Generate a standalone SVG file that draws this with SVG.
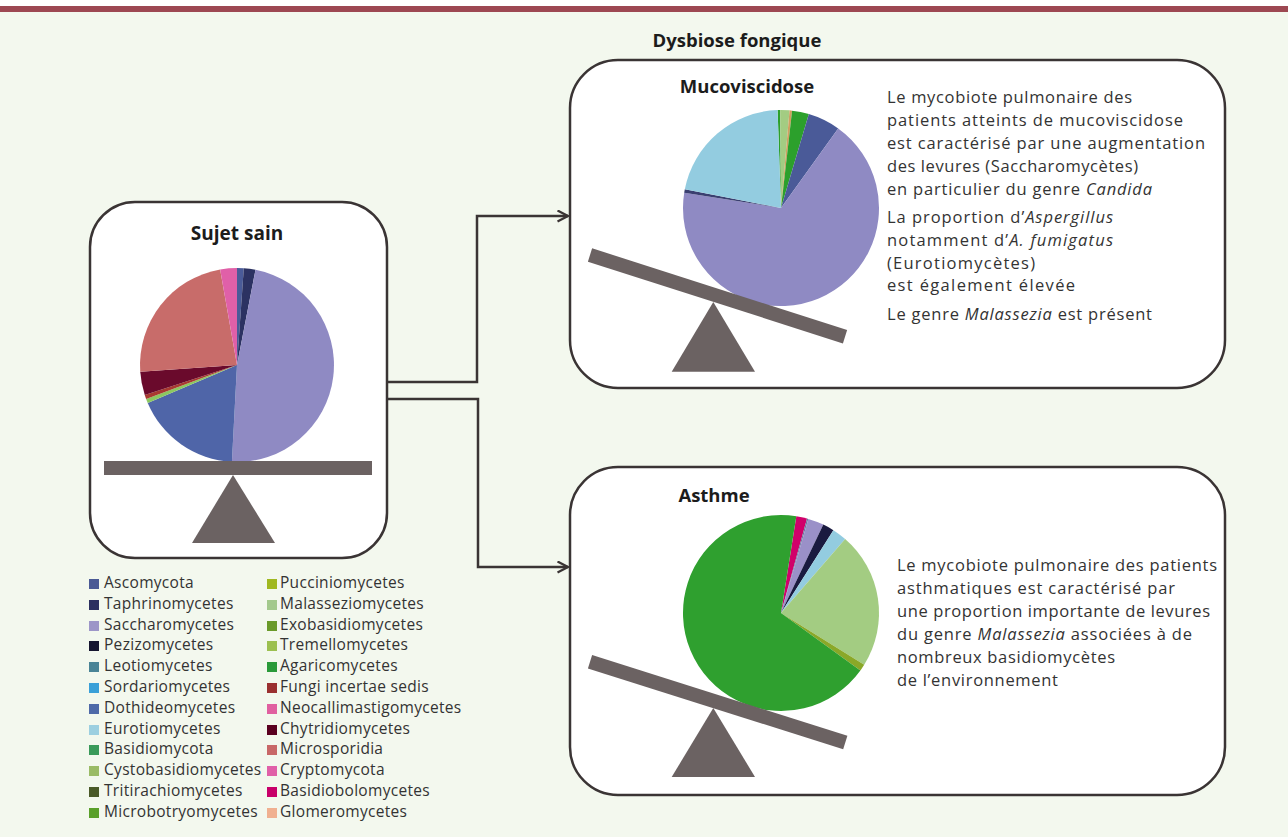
<svg xmlns="http://www.w3.org/2000/svg" width="1288" height="837" viewBox="0 0 1288 837">
<style>
.box{fill:#ffffff;stroke:#3a3434;stroke-width:2.5}
.conn{fill:none;stroke:#3a3434;stroke-width:2.5}
.beam{fill:#6b6262}
.h{font-family:"Open Sans","Liberation Sans",sans-serif;font-weight:700;fill:#1c1c1c;text-anchor:middle}
.t{font-family:"Open Sans","Liberation Sans",sans-serif;font-size:16.5px;fill:#333333}
.lg{font-family:"Open Sans","Liberation Sans",sans-serif;font-size:15.5px;letter-spacing:0.3px;fill:#333333}
.i{font-style:italic}
</style>
<defs>
<marker id="arr" markerUnits="userSpaceOnUse" markerWidth="14" markerHeight="14" refX="11" refY="6" orient="auto">
<path d="M0.5,0.5 L11,6 L0.5,11.5" fill="none" stroke="#3a3434" stroke-width="2.3"/>
</marker>
</defs>
<rect x="0" y="0" width="1288" height="837" fill="#f3f8ee"/>
<rect x="0" y="0" width="1288" height="6" fill="#ffffff"/>
<rect x="0" y="6" width="1288" height="6" fill="#9d4852"/>
<text class="h" x="737" y="47" font-size="18.5">Dysbiose fongique</text>

<g id="connectors">
<path class="conn" d="M387,382 H477 V216 H568" marker-end="url(#arr)"/>
<path class="conn" d="M387,399 H478 V567 H568" marker-end="url(#arr)"/>
</g>

<g id="sujet-sain">
<rect class="box" x="90" y="202" width="297" height="356" rx="45" ry="45"/>
<text class="h" x="237" y="240" font-size="19">Sujet sain</text>
<g stroke="none">
<path d="M237,365 L237,268 A97,97 0 0 1 243.77,268.23 Z" fill="#4a5b98"/>
<path d="M237,365 L243.77,268.23 A97,97 0 0 1 255.51,269.79 Z" fill="#2c3262"/>
<path d="M237,365 L255.51,269.79 A97,97 0 0 1 231.92,461.87 Z" fill="#8f8ac3"/>
<path d="M237,365 L231.92,461.87 A97,97 0 0 1 147.71,402.90 Z" fill="#4f65a8"/>
<path d="M237,365 L147.71,402.90 A97,97 0 0 1 146.14,398.97 Z" fill="#8cc860"/>
<path d="M237,365 L146.14,398.97 A97,97 0 0 1 144.75,394.97 Z" fill="#a83a30"/>
<path d="M237,365 L144.75,394.97 A97,97 0 0 1 140.24,371.77 Z" fill="#6a0a2c"/>
<path d="M237,365 L140.24,371.77 A97,97 0 0 1 220.16,269.47 Z" fill="#c86c6a"/>
<path d="M237,365 L220.16,269.47 A97,97 0 0 1 237,268 Z" fill="#e060a8"/>
</g>
<rect class="beam" x="104" y="461" width="268" height="14"/>
<polygon class="beam" points="233,475 192,543 275,543"/>
</g>

<g id="mucoviscidose">
<rect class="box" x="570" y="60" width="655" height="328" rx="48" ry="48"/>
<text class="h" x="747" y="93" font-size="18.5">Mucoviscidose</text>
<g stroke="none">
<path d="M781,208 L777.58,110.06 A98,98 0 0 1 780.14,110 Z" fill="#2ca02c"/>
<path d="M781,208 L780.14,110 A98,98 0 0 1 789.54,110.37 Z" fill="#a3cc82"/>
<path d="M781,208 L789.54,110.37 A98,98 0 0 1 792.09,110.63 Z" fill="#d0a060"/>
<path d="M781,208 L792.09,110.63 A98,98 0 0 1 808.83,114.04 Z" fill="#2ca02c"/>
<path d="M781,208 L808.83,114.04 A98,98 0 0 1 838.18,128.41 Z" fill="#4a5a98"/>
<path d="M781,208 L838.18,128.41 A98,98 0 1 1 684.21,192.67 Z" fill="#8f8ac3"/>
<path d="M781,208 L684.21,192.67 A98,98 0 0 1 684.80,189.30 Z" fill="#3a3f70"/>
<path d="M781,208 L684.80,189.30 A98,98 0 0 1 777.58,110.06 Z" fill="#93cce0"/>
</g>
<polygon class="beam" points="592.1,248.3 847.1,330 842.9,343.4 587.9,261.7"/>
<polygon class="beam" points="713.3,302 671.7,371.7 755,371.7"/>
<text class="t" x="887" y="103.3" textLength="245" lengthAdjust="spacing">Le mycobiote pulmonaire des</text>
<text class="t" x="887" y="126.2" textLength="296" lengthAdjust="spacing">patients atteints de mucoviscidose</text>
<text class="t" x="887" y="149.1" textLength="318" lengthAdjust="spacing">est caractérisé par une augmentation</text>
<text class="t" x="887" y="172" textLength="251" lengthAdjust="spacing">des levures (Saccharomycètes)</text>
<text class="t" x="887" y="194.9" textLength="265" lengthAdjust="spacing">en particulier du genre <tspan class="i">Candida</tspan></text>
<text class="t" x="887" y="222.7" textLength="226" lengthAdjust="spacing">La proportion d’<tspan class="i">Aspergillus</tspan></text>
<text class="t" x="887" y="245.6" textLength="226" lengthAdjust="spacing">notamment d’<tspan class="i">A. fumigatus</tspan></text>
<text class="t" x="887" y="268.5" textLength="148" lengthAdjust="spacing">(Eurotiomycètes)</text>
<text class="t" x="887" y="291.4" textLength="188" lengthAdjust="spacing">est également élevée</text>
<text class="t" x="887" y="320" textLength="265" lengthAdjust="spacing">Le genre <tspan class="i">Malassezia</tspan> est présent</text>
</g>

<g id="asthme">
<rect class="box" x="570" y="467" width="655" height="328" rx="48" ry="48"/>
<text class="h" x="714" y="502" font-size="18.5">Asthme</text>
<g stroke="none">
<path d="M781,613 L796.33,516.21 A98,98 0 0 1 807.03,518.52 Z" fill="#d0006a"/>
<path d="M781,613 L807.03,518.52 A98,98 0 0 1 808.34,518.89 Z" fill="#6a7aa0"/>
<path d="M781,613 L808.34,518.89 A98,98 0 0 1 823.35,524.62 Z" fill="#9a90c8"/>
<path d="M781,613 L823.35,524.62 A98,98 0 0 1 833.37,530.16 Z" fill="#1a1a40"/>
<path d="M781,613 L833.37,530.16 A98,98 0 0 1 845.16,538.92 Z" fill="#93cce0"/>
<path d="M781,613 L845.16,538.92 A98,98 0 0 1 864.20,664.78 Z" fill="#a3cc82"/>
<path d="M781,613 L864.20,664.78 A98,98 0 0 1 860.38,670.47 Z" fill="#8aa828"/>
<path d="M781,613 L860.38,670.47 A98,98 0 1 1 796.33,516.21 Z" fill="#2fa02f"/>
</g>
<polygon class="beam" points="592.1,655 847.4,735.8 843.2,749.2 587.9,668.4"/>
<polygon class="beam" points="713.3,708 671.7,777 755,777"/>
<text class="t" x="897" y="571" textLength="320" lengthAdjust="spacing">Le mycobiote pulmonaire des patients</text>
<text class="t" x="897" y="594" textLength="278" lengthAdjust="spacing">asthmatiques est caractérisé par</text>
<text class="t" x="897" y="617" textLength="313" lengthAdjust="spacing">une proportion importante de levures</text>
<text class="t" x="897" y="640" textLength="295" lengthAdjust="spacing">du genre <tspan class="i">Malassezia</tspan> associées à de</text>
<text class="t" x="897" y="663" textLength="218" lengthAdjust="spacing">nombreux basidiomycètes</text>
<text class="t" x="897" y="686" textLength="161" lengthAdjust="spacing">de l’environnement</text>
</g>

<g id="legend">
<rect x="89" y="579" width="10" height="10" fill="#4a5a95"/><text class="lg" x="104" y="588">Ascomycota</text>
<rect x="89" y="600" width="10" height="10" fill="#2c3060"/><text class="lg" x="104" y="609">Taphrinomycetes</text>
<rect x="89" y="621" width="10" height="10" fill="#9d96c8"/><text class="lg" x="104" y="630">Saccharomycetes</text>
<rect x="89" y="641" width="10" height="10" fill="#151530"/><text class="lg" x="104" y="650">Pezizomycetes</text>
<rect x="89" y="662" width="10" height="10" fill="#4a8496"/><text class="lg" x="104" y="671">Leotiomycetes</text>
<rect x="89" y="683" width="10" height="10" fill="#3aa0d8"/><text class="lg" x="104" y="692">Sordariomycetes</text>
<rect x="89" y="704" width="10" height="10" fill="#4f6aa8"/><text class="lg" x="104" y="713">Dothideomycetes</text>
<rect x="89" y="725" width="10" height="10" fill="#9ccfe0"/><text class="lg" x="104" y="734">Eurotiomycetes</text>
<rect x="89" y="745" width="10" height="10" fill="#3a9a5a"/><text class="lg" x="104" y="754">Basidiomycota</text>
<rect x="89" y="766" width="10" height="10" fill="#9abb66"/><text class="lg" x="104" y="775">Cystobasidiomycetes</text>
<rect x="89" y="787" width="10" height="10" fill="#4a5a28"/><text class="lg" x="104" y="796">Tritirachiomycetes</text>
<rect x="89" y="808" width="10" height="10" fill="#5aa02a"/><text class="lg" x="104" y="817">Microbotryomycetes</text>
<rect x="267" y="579" width="10" height="10" fill="#a0b820"/><text class="lg" x="280" y="588">Pucciniomycetes</text>
<rect x="267" y="600" width="10" height="10" fill="#a3c98c"/><text class="lg" x="280" y="609">Malasseziomycetes</text>
<rect x="267" y="621" width="10" height="10" fill="#6a9a2a"/><text class="lg" x="280" y="630">Exobasidiomycetes</text>
<rect x="267" y="641" width="10" height="10" fill="#9cc050"/><text class="lg" x="280" y="650">Tremellomycetes</text>
<rect x="267" y="662" width="10" height="10" fill="#2a9a3a"/><text class="lg" x="280" y="671">Agaricomycetes</text>
<rect x="267" y="683" width="10" height="10" fill="#9a3030"/><text class="lg" x="280" y="692">Fungi incertae sedis</text>
<rect x="267" y="704" width="10" height="10" fill="#e060a0"/><text class="lg" x="280" y="713">Neocallimastigomycetes</text>
<rect x="267" y="725" width="10" height="10" fill="#5a0020"/><text class="lg" x="280" y="734">Chytridiomycetes</text>
<rect x="267" y="745" width="10" height="10" fill="#c86868"/><text class="lg" x="280" y="754">Microsporidia</text>
<rect x="267" y="766" width="10" height="10" fill="#e060a8"/><text class="lg" x="280" y="775">Cryptomycota</text>
<rect x="267" y="787" width="10" height="10" fill="#c8006a"/><text class="lg" x="280" y="796">Basidiobolomycetes</text>
<rect x="267" y="808" width="10" height="10" fill="#f0b090"/><text class="lg" x="280" y="817">Glomeromycetes</text>
</g>
</svg>
